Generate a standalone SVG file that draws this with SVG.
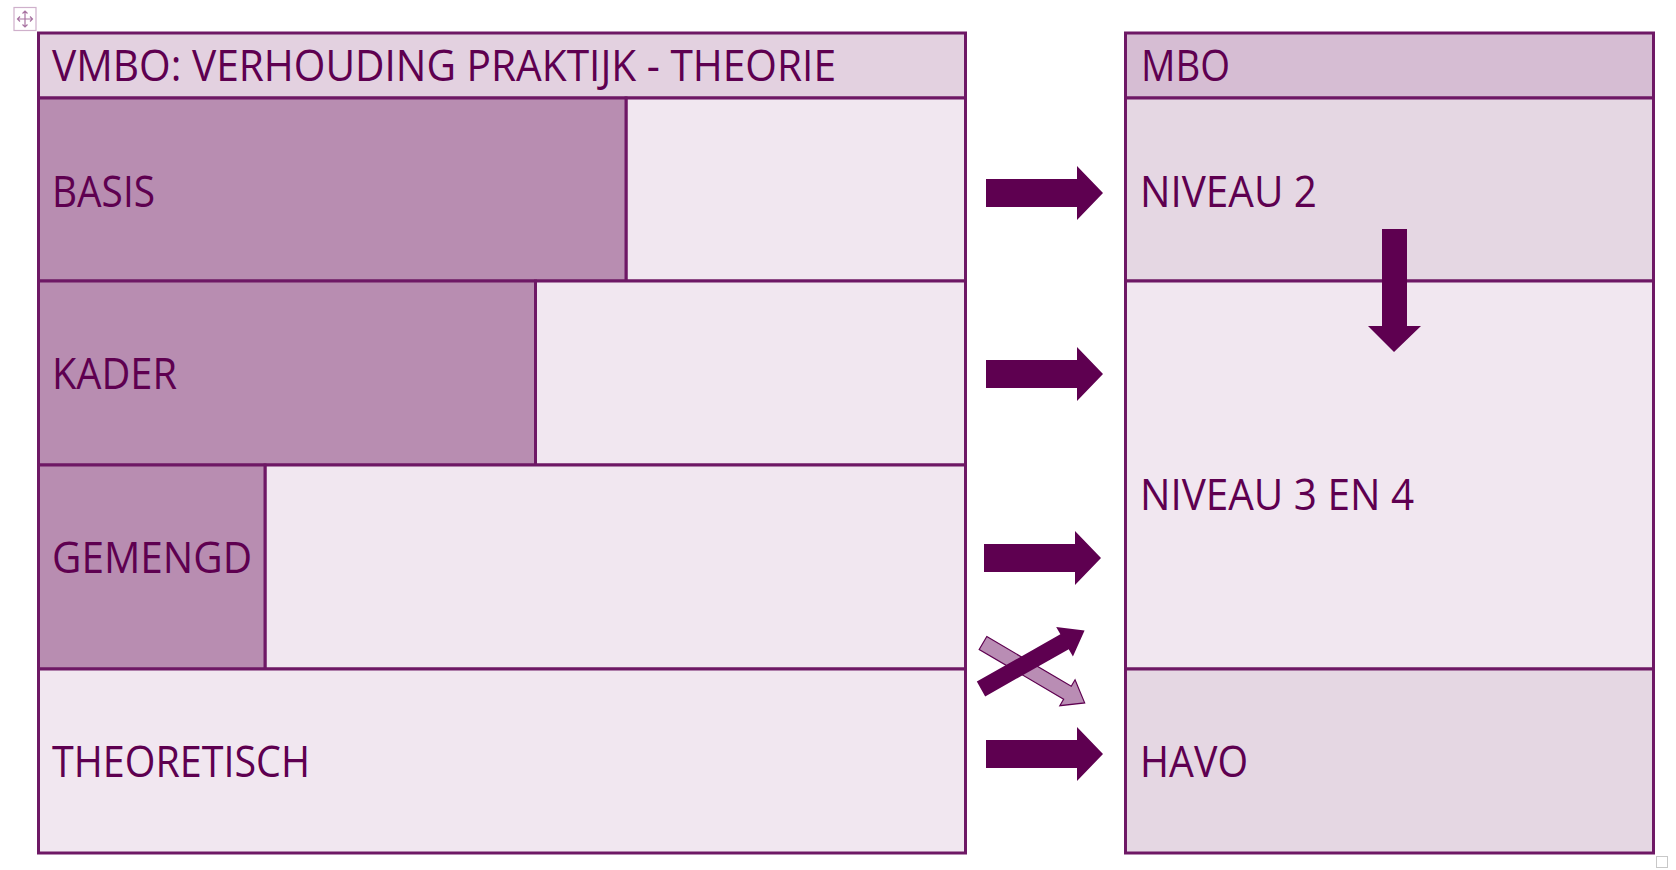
<svg xmlns="http://www.w3.org/2000/svg" width="1676" height="870" viewBox="0 0 1676 870">
<style>
.bg{fill:#ffffff}
.cell{stroke:#6e1865;stroke-width:3}
.hdrL{fill:#e3d1e0}
.hdrR{fill:#d6bdd3}
.dark{fill:#b88db1}
.light{fill:#f1e7f0}
.mid{fill:#e5d7e3}
.lbl{font-family:"Open Sans","Noto Sans",sans-serif;font-size:43px;fill:#5e0050}
.arr{fill:#5e0050}
.arrL{fill:#b98db4;stroke:#5e0050;stroke-width:1.2}
.handle{fill:#ffffff;stroke:#cfb0cb;stroke-width:1.2}
</style>
<defs>
<path id="arrowR" d="M0,-14 H91 V-27 L117,0 L91,27 V14 H0 Z"/>
</defs>
<rect class="bg" x="0" y="0" width="1676" height="870"/>

<g id="table-handles">
<rect class="handle" x="14" y="7.5" width="22" height="23"/>
<path d="M25,11 V27 M17.5,19 H32.5 M22.5,13.5 L25,11 L27.5,13.5 M22.5,24.5 L25,27 L27.5,24.5 M20,16.5 L17.5,19 L20,21.5 M30,16.5 L32.5,19 L30,21.5" fill="none" stroke="#a874a2" stroke-width="1.2"/>
<rect x="1656.5" y="856.5" width="11" height="11" fill="#ffffff" stroke="#c8c8c8" stroke-width="1"/>
</g>

<g id="vmbo-header">
<rect class="cell hdrL" x="38.5" y="33" width="927" height="65"/>
<text class="lbl" x="52" y="81" textLength="784" lengthAdjust="spacingAndGlyphs">VMBO: VERHOUDING PRAKTIJK - THEORIE</text>
</g>
<g id="vmbo-basis">
<rect class="cell light" x="626" y="98" width="339.5" height="183"/>
<rect class="cell dark" x="38.5" y="98" width="587.5" height="183"/>
<text class="lbl" x="52" y="207" textLength="103" lengthAdjust="spacingAndGlyphs">BASIS</text>
</g>
<g id="vmbo-kader">
<rect class="cell light" x="535.5" y="281" width="430" height="184"/>
<rect class="cell dark" x="38.5" y="281" width="497" height="184"/>
<text class="lbl" x="52" y="388.5" textLength="125" lengthAdjust="spacingAndGlyphs">KADER</text>
</g>
<g id="vmbo-gemengd">
<rect class="cell light" x="265" y="465" width="700.5" height="204"/>
<rect class="cell dark" x="38.5" y="465" width="226.5" height="204"/>
<text class="lbl" x="52" y="572.5" textLength="200" lengthAdjust="spacingAndGlyphs">GEMENGD</text>
</g>
<g id="vmbo-theoretisch">
<rect class="cell light" x="38.5" y="669" width="927" height="184"/>
<text class="lbl" x="52" y="776.5" textLength="258" lengthAdjust="spacingAndGlyphs">THEORETISCH</text>
</g>

<g id="mbo-header">
<rect class="cell hdrR" x="1125.5" y="33" width="528" height="65"/>
<text class="lbl" x="1141" y="81" textLength="89" lengthAdjust="spacingAndGlyphs">MBO</text>
</g>
<g id="mbo-niveau2">
<rect class="cell mid" x="1125.5" y="98" width="528" height="183"/>
<text class="lbl" x="1140" y="206.5" textLength="177" lengthAdjust="spacingAndGlyphs">NIVEAU 2</text>
</g>
<g id="mbo-niveau34">
<rect class="cell light" x="1125.5" y="281" width="528" height="388"/>
<text class="lbl" x="1140" y="509.5" textLength="274" lengthAdjust="spacingAndGlyphs">NIVEAU 3 EN 4</text>
</g>
<g id="havo">
<rect class="cell mid" x="1125.5" y="669" width="528" height="184"/>
<text class="lbl" x="1140" y="776.5" textLength="108" lengthAdjust="spacingAndGlyphs">HAVO</text>
</g>

<g id="connectors">
<use href="#arrowR" class="arr" transform="translate(986,193)"/>
<use href="#arrowR" class="arr" transform="translate(986,374)"/>
<use href="#arrowR" class="arr" transform="translate(984,558)"/>
<use href="#arrowR" class="arr" transform="translate(986,754)"/>
<polygon class="arr" points="1382,229 1407,229 1407,326 1421,326 1394,352 1368,326 1382,326"/>
<path class="arrL" transform="translate(983,643) rotate(30.5)" d="M0,-7.5 H98 V-15 L118,0 L98,15 V7.5 H0 Z"/>
<path class="arr" transform="translate(981,689) rotate(-29.5)" d="M0,-8.5 H96 V-17 L119,0 L96,17 V8.5 H0 Z"/>
</g>
</svg>
